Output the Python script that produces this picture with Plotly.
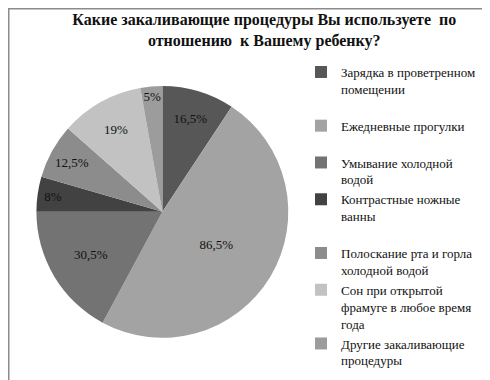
import plotly.graph_objects as go

categories = [
    "Зарядка в проветренном<br>помещении<br> ",
    "Ежедневные прогулки<br> ",
    "Умывание холодной<br>водой",
    "Контрастные ножные<br>ванны<br> ",
    "Полоскание рта и горла<br>холодной водой",
    "Сон при открытой<br>фрамуге в любое время<br>года",
    "Другие закаливающие<br>процедуры",
]
values = [16.5, 86.5, 30.5, 8, 12.5, 19, 5]
value_labels = ["16,5%", "86,5%", "30,5%", "8%", "12,5%", "19%", "5%"]
colors = ["#575757", "#a3a3a3", "#737373", "#424242", "#8c8c8c", "#c2c2c2", "#9c9c9c"]

SERIF = "Liberation Serif, Times New Roman, DejaVu Serif, serif"

fig = go.Figure(go.Pie(
    labels=categories,
    values=values,
    text=value_labels,
    textinfo="text",
    textposition="inside",
    insidetextorientation="horizontal",
    sort=False,
    direction="clockwise",
    rotation=0,
    marker=dict(colors=colors, line=dict(width=0)),
    textfont=dict(family=SERIF, size=13, color="#111111"),
    domain=dict(x=[0.058, 0.572], y=[0.132, 0.795]),
    hoverinfo="label+text",
))

fig.update_layout(
    width=490, height=380,
    margin=dict(l=0, r=0, t=0, b=0),
    paper_bgcolor="white",
    plot_bgcolor="white",
    title=dict(
        text="<b>Какие закаливающие процедуры Вы используете  по<br>отношению  к Вашему ребенку?</b>",
        x=0.523, xanchor="center", y=0.955, yanchor="top",
        font=dict(family=SERIF, size=16, color="#111111"),
    ),
    uniformtext=dict(minsize=13, mode="show"),
    legend=dict(
        x=0.598, xanchor="left", y=0.871, yanchor="top",
        valign="top",
        font=dict(family=SERIF, size=13, color="#111111"),
        bgcolor="rgba(0,0,0,0)",
    ),
    shapes=[dict(type="rect", xref="paper", yref="paper", x0=0, y0=0, x1=1, y1=1,
                 line=dict(color="#8c8c8c", width=3))],
)

fig.write_html("out.html")
